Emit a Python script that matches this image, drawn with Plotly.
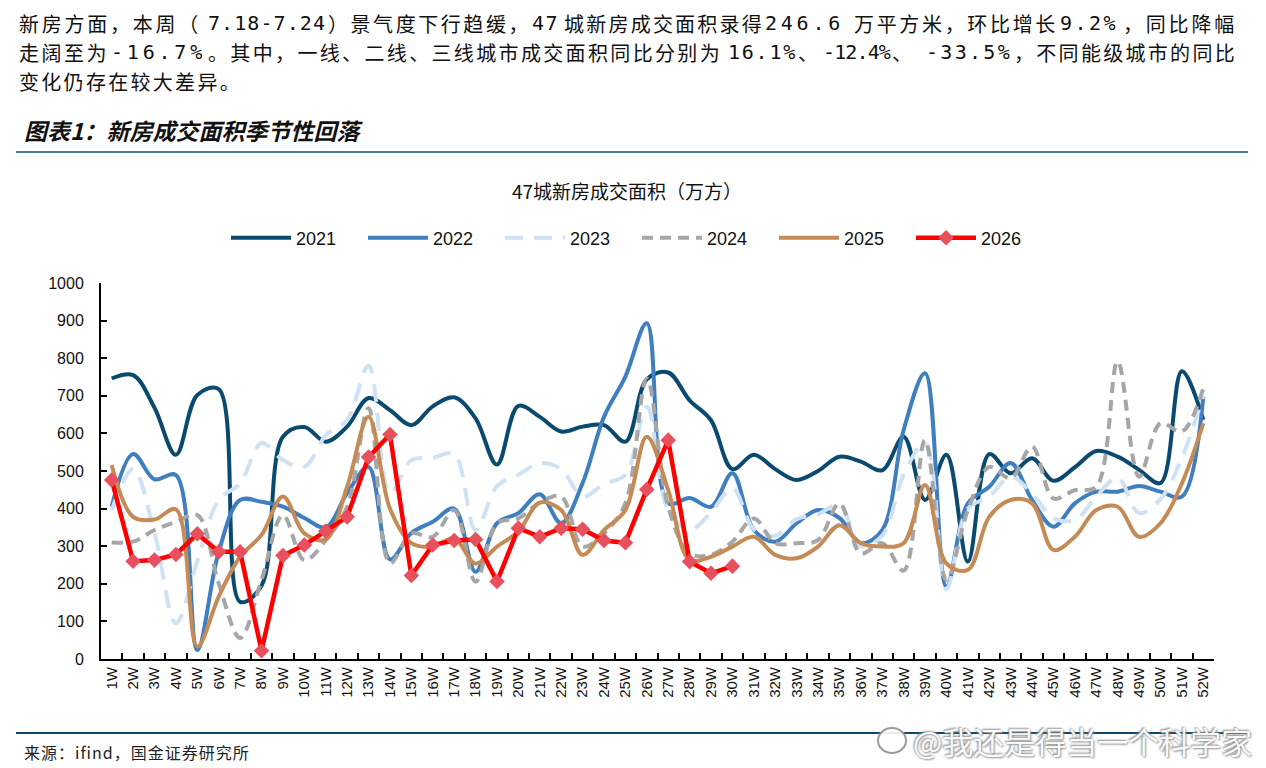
import plotly.graph_objects as go

# ---- data ----
weeks = ['1W', '2W', '3W', '4W', '5W', '6W', '7W', '8W', '9W', '10W', '11W', '12W', '13W',
         '14W', '15W', '16W', '17W', '18W', '19W', '20W', '21W', '22W', '23W', '24W', '25W',
         '26W', '27W', '28W', '29W', '30W', '31W', '32W', '33W', '34W', '35W', '36W', '37W',
         '38W', '39W', '40W', '41W', '42W', '43W', '44W', '45W', '46W', '47W', '48W', '49W',
         '50W', '51W', '52W']

y2021 = [746, 755, 668, 543, 702, 718, 152, 195, 591, 617, 578, 618, 694, 662, 622, 672, 696,
         640, 517, 673, 644, 605, 618, 622, 578, 744, 762, 688, 635, 505, 543, 505, 476, 500,
         538, 525, 502, 591, 423, 543, 259, 545, 494, 534, 474, 510, 553, 538, 503, 468, 765, 636]
y2022 = [405, 545, 478, 489, 24, 285, 423, 418, 405, 375, 350, 441, 511, 265, 335, 365, 400,
         232, 361, 388, 438, 361, 468, 644, 751, 893, 414, 428, 405, 494, 343, 312, 361, 396,
         375, 308, 343, 609, 760, 192, 414, 458, 521, 423, 352, 414, 445, 445, 460, 445, 432, 698]
y2023 = [396, 505, 335, 95, 260, 423, 467, 574, 529, 511, 595, 636, 780, 440, 529, 535, 545,
         343, 460, 490, 521, 505, 432, 465, 490, 670, 395, 343, 390, 455, 345, 328, 372, 385,
         410, 300, 328, 490, 575, 185, 400, 432, 485, 440, 375, 370, 432, 482, 388, 425, 535, 700]
y2024 = [310, 312, 343, 365, 383, 201, 56, 210, 383, 263, 316, 405, 667, 255, 334, 325, 396,
         206, 361, 374, 416, 432, 299, 334, 414, 746, 405, 281, 277, 312, 374, 308, 308, 316,
         414, 281, 308, 235, 582, 210, 396, 511, 481, 565, 427, 449, 458, 791, 485, 627, 605, 720]
y2025 = [516, 378, 371, 398, 33, 166, 272, 330, 432, 334, 318, 458, 644, 400, 308, 299, 321,
         254, 299, 339, 416, 396, 277, 343, 396, 591, 449, 263, 272, 299, 325, 277, 268, 299,
         356, 308, 299, 308, 463, 254, 237, 378, 423, 414, 290, 325, 396, 405, 325, 361, 467, 627]
y2026 = [476, 260, 263, 278, 333, 285, 285, 22, 275, 303, 340, 378, 537, 597, 222, 303, 315,
         318, 206, 348, 325, 348, 345, 315, 309, 451, 582, 259, 228, 247]

y_ticks = [0, 100, 200, 300, 400, 500, 600, 700, 800, 900, 1000]

# intro paragraph: pieces with the page x where each starts and ends, so the widely
# spaced, justified lines of the source page can be kept (via letter-spacing)
intro_lines = [
    [('新房方面，本周（', 18, 200), ('7.18-7.24', 207, 325), ('）景气度下行趋缓，', 327, 530),
     ('47', 531, 558), ('城新房成交面积录得', 563, 763), ('246.6', 764, 843),
     ('万平方米，环比增长', 853, 1057), ('9.2%', 1059, 1117), ('，同比降幅', 1122, 1236)],
    [('走阔至为', 18, 108), ('-16.7%', 110, 205), ('。其中，一线、二线、三线城市成交面积同比分别为', 207, 721),
     ('16.1%', 727, 796), ('、', 797, 819), ('-12.4%', 822, 889), ('、', 891, 913),
     ('-33.5%', 925, 1011), ('，不同能级城市的同比', 1013, 1236)],
    [('变化仍存在较大差异。', 18, 241)],
]
fig_caption = '图表1：新房成交面积季节性回落'
chart_title = '47城新房成交面积（万方）'
source_text = '来源：ifind，国金证券研究所'
watermark = '@我还是得当一个科学家'

# ---- page geometry (page pixels; the page body has an 8px margin) ----
OFF = 8
W, H = 1266 - OFF, 768 - OFF
L, R, T, B = 101, 1214, 283, 659


def px_x(px):
    return (px - L) / (R - L)


def px_y(py):
    return (B - py) / (B - T)


CJK = 'Noto Sans CJK SC'
MONO = 'DejaVu Sans Mono'
LAT = 'Liberation Sans, Arial'
TEXT_SIZE = 20

fig = go.Figure()

smooth = [
    ('2021', y2021, '#0b4a6f', 'solid'),
    ('2022', y2022, '#3f7ebf', 'solid'),
    ('2023', y2023, '#cfe2f3', '18px,11px'),
    ('2024', y2024, '#a6a6a6', '11px,7px'),
    ('2025', y2025, '#c58b56', 'solid'),
]
for name, vals, color, dash in smooth:
    fig.add_trace(go.Scatter(
        x=weeks, y=vals, name=name, mode='lines',
        line=dict(color=color, width=4, dash=dash, shape='spline', smoothing=1.0),
    ))

fig.add_trace(go.Scatter(
    x=weeks[:len(y2026)], y=y2026, name='2026', mode='lines+markers',
    line=dict(color='#ff0000', width=4.5),
    marker=dict(symbol='diamond', size=12, color='#e8505e'),
))

annotations = []
for i, pieces in enumerate(intro_lines):
    for text, x0, x1 in pieces:
        latin = text[0] in '-0123456789'
        natural = TEXT_SIZE * (0.602 if latin else 1.0)
        spacing = (x1 - x0) / len(text) - natural
        annotations.append(dict(
            text='<span style="letter-spacing:%.2fpx">%s</span>' % (spacing, text),
            x=px_x(x0), y=px_y(23 + i * 29), xref='paper', yref='paper',
            xanchor='left', yanchor='middle', showarrow=False, borderpad=0,
            font=dict(family=MONO if latin else CJK, size=TEXT_SIZE, color='#111111'),
        ))
annotations += [
    dict(text='<b><i>' + fig_caption + '</i></b>', x=px_x(22), y=px_y(130),
         xref='paper', yref='paper', xanchor='left', yanchor='middle', showarrow=False,
         font=dict(family=CJK, size=23, color='#111111')),
    dict(text=chart_title, x=px_x(627), y=px_y(190), xref='paper', yref='paper',
         xanchor='center', yanchor='middle', showarrow=False,
         font=dict(family=CJK, size=19, color='#111111')),
    dict(text='<span style="letter-spacing:1px">' + source_text + '</span>',
         x=px_x(22), y=px_y(752), xref='paper', yref='paper',
         xanchor='left', yanchor='middle', showarrow=False,
         font=dict(family=CJK, size=16, color='#222222')),
    dict(text=watermark, x=px_x(1254), y=px_y(740), xref='paper', yref='paper',
         xanchor='right', yanchor='middle', showarrow=False,
         font=dict(family=CJK, size=31, color='rgba(255,255,255,0.95)',
                   shadow='1px 1px 2px #8a8a8a, -1px -1px 2px #8a8a8a')),
]

shapes = [
    dict(type='line', xref='paper', yref='paper', x0=px_x(16), x1=px_x(1248),
         y0=px_y(152), y1=px_y(152), line=dict(color='#0b4a6f', width=1.5)),
    dict(type='line', xref='paper', yref='paper', x0=px_x(16), x1=px_x(1248),
         y0=px_y(733), y1=px_y(733), line=dict(color='#0b4a6f', width=2)),
    # rough stand-in for the weibo logo next to the watermark
    dict(type='circle', xref='paper', yref='paper', x0=px_x(878), x1=px_x(906),
         y0=px_y(753), y1=px_y(728), fillcolor='rgba(255,255,255,0.9)',
         line=dict(color='#9a9a9a', width=2)),
]

fig.update_layout(
    width=W, height=H,
    margin=dict(l=L - OFF, r=1266 - R, t=T - OFF, b=768 - B, pad=0),
    paper_bgcolor='white', plot_bgcolor='white',
    showlegend=True,
    legend=dict(
        orientation='h', x=px_x(637), y=px_y(238), xanchor='center', yanchor='middle',
        font=dict(family=LAT, size=18, color='#111111'),
        entrywidth=62, entrywidthmode='pixels', itemwidth=60, traceorder='normal',
    ),
    annotations=annotations,
    shapes=shapes,
    xaxis=dict(
        type='category', categoryorder='array', categoryarray=weeks,
        range=[-0.5, len(weeks) - 0.5], autorange=False,
        showline=True, linecolor='black', linewidth=2, mirror=False,
        ticks='inside', tickson='boundaries', ticklen=6, tickcolor='black', tickwidth=1.5,
        tickangle=-90, showgrid=False, zeroline=False,
        tickfont=dict(family=LAT, size=15, color='#111111'),
    ),
    yaxis=dict(
        range=[0, 1000], tickvals=y_ticks, showline=True, linecolor='black', linewidth=2,
        ticks='inside', ticklen=6, tickcolor='black', tickwidth=1.5,
        showgrid=False, zeroline=False, ticklabelstandoff=12,
        tickfont=dict(family=LAT, size=16, color='#111111'),
    ),
)

fig.write_html('out.html')
